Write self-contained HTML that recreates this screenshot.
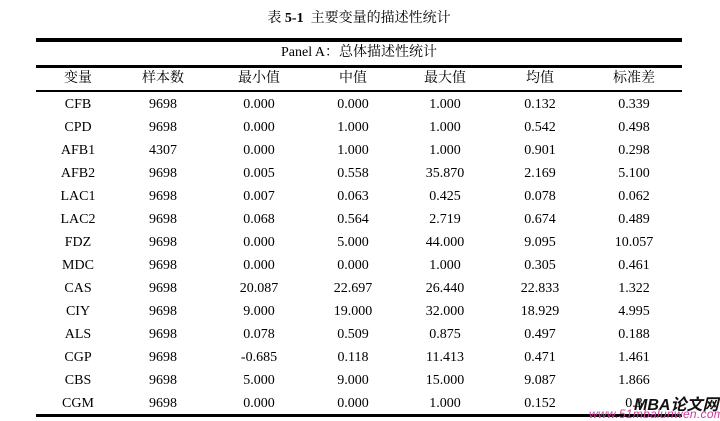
<!DOCTYPE html>
<html><head><meta charset="utf-8"><style>
body{margin:0;width:720px;height:421px;background:#fff;position:relative;overflow:hidden;font-family:"Liberation Serif","Noto Serif CJK SC",serif;color:#000}
.t{position:absolute;font-size:14px;white-space:nowrap;transform:translateX(-50%);line-height:16px}
.l{position:absolute;left:36px;width:646px;background:#000}
.wm1{position:absolute;left:634px;top:391px;font:italic bold 16px "Liberation Sans","Noto Sans CJK SC",sans-serif;color:#111}
.wm2{position:absolute;left:589px;top:407px;font:italic 12px "Liberation Sans",sans-serif;color:#d23ca0;letter-spacing:0.3px}
</style></head><body>
<div class="t" style="left:359px;top:11px">表 <b>5-1</b>&nbsp; 主要变量的描述性统计</div>
<div class="l" style="top:38px;height:4px"></div>
<div class="t" style="left:359px;top:45px">Panel A：总体描述性统计</div>
<div class="l" style="top:65px;height:3px"></div>
<div class="l" style="top:90px;height:2px"></div>
<div class="l" style="top:414px;height:3px"></div>
<div id="c"></div>
<div class="wm1">MBA论文网</div>
<div class="wm2">www.51mbalunwen.com</div>
<script>
var xs=[78,163,259,353,445,540,634];
var h=["变量","样本数","最小值","中值","最大值","均值","标准差"];
var d=[["CFB",9698,"0.000","0.000","1.000","0.132","0.339"],
["CPD",9698,"0.000","1.000","1.000","0.542","0.498"],
["AFB1",4307,"0.000","1.000","1.000","0.901","0.298"],
["AFB2",9698,"0.005","0.558","35.870","2.169","5.100"],
["LAC1",9698,"0.007","0.063","0.425","0.078","0.062"],
["LAC2",9698,"0.068","0.564","2.719","0.674","0.489"],
["FDZ",9698,"0.000","5.000","44.000","9.095","10.057"],
["MDC",9698,"0.000","0.000","1.000","0.305","0.461"],
["CAS",9698,"20.087","22.697","26.440","22.833","1.322"],
["CIY",9698,"9.000","19.000","32.000","18.929","4.995"],
["ALS",9698,"0.078","0.509","0.875","0.497","0.188"],
["CGP",9698,"-0.685","0.118","11.413","0.471","1.461"],
["CBS",9698,"5.000","9.000","15.000","9.087","1.866"],
["CGM",9698,"0.000","0.000","1.000","0.152","0.3"]];
var s="";
h.forEach(function(v,i){s+='<div class="t" style="left:'+xs[i]+'px;top:71px">'+v+'</div>';});
d.forEach(function(r,j){r.forEach(function(v,i){s+='<div class="t" style="left:'+xs[i]+'px;top:'+(97+23*j)+'px">'+v+'</div>';});});
document.getElementById("c").innerHTML=s;
</script>
</body></html>
